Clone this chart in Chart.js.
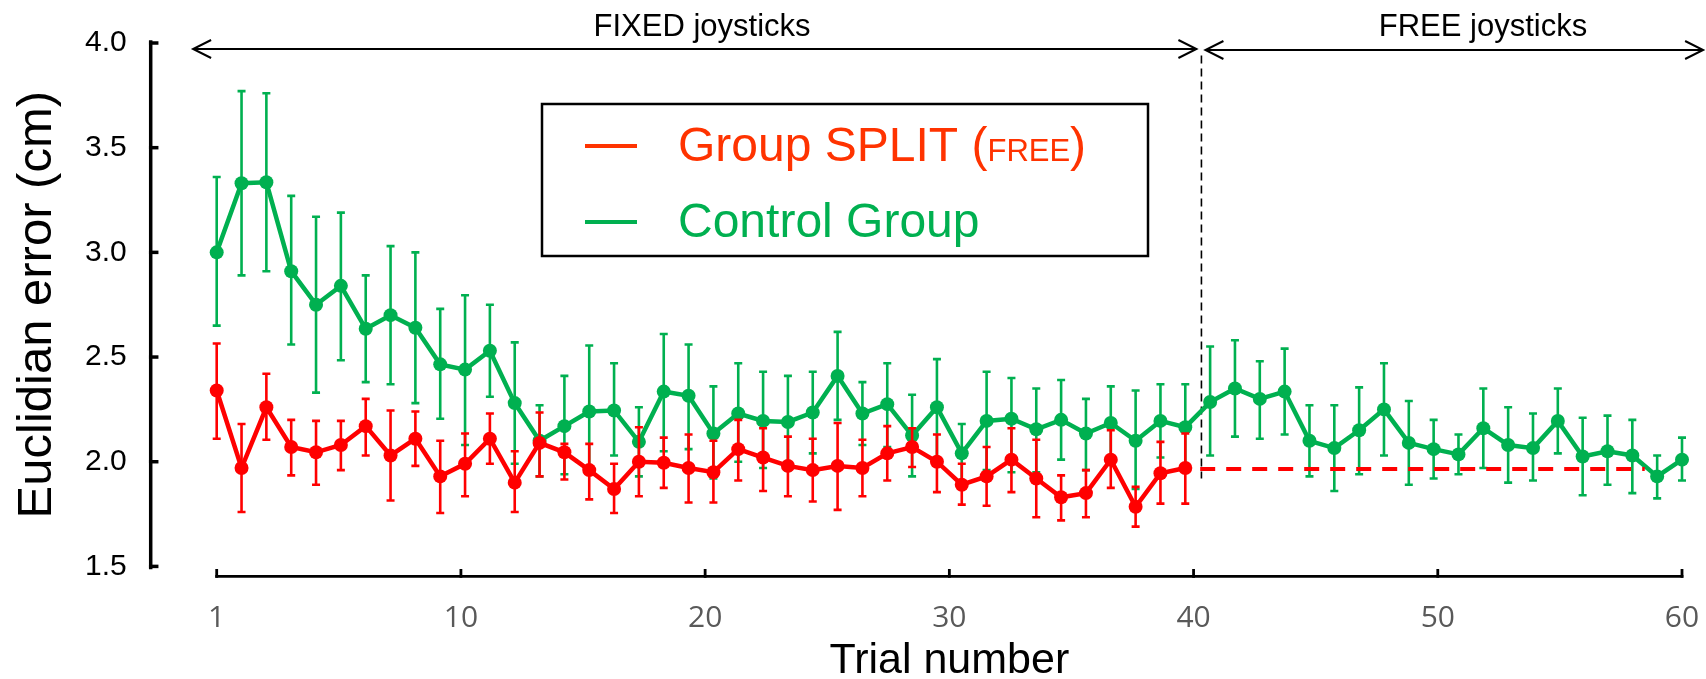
<!DOCTYPE html>
<html lang="en">
<head>
<meta charset="UTF-8" />
<title>Euclidian error per trial</title>
<script src="https://cdn.jsdelivr.net/npm/chart.js"></script>
<style>
  html, body { margin: 0; padding: 0; background: #fff; }
  .box { position: relative; width: 1706px; height: 679px; }
</style>
</head>
<body>
<div class="box"><canvas id="grafico"></canvas></div>

<script>
// trial numbers (x) and the labels printed under the axis
const trials = Array.from({ length: 60 }, (_, i) => i + 1);
const xTickLabels = ['1', '10', '20', '30', '40', '50', '60'];
const yTicks = [1.5, 2.0, 2.5, 3.0, 3.5, 4.0];

// Group SPLIT (FREE) - trials 1..40, mean and error bar ends
const splitMean = [2.34, 1.97, 2.26, 2.07, 2.045, 2.08, 2.17, 2.03, 2.11, 1.93,
  1.99, 2.11, 1.90, 2.09, 2.045, 1.96, 1.87, 2.00, 1.995, 1.97,
  1.95, 2.06, 2.02, 1.98, 1.96, 1.98, 1.97, 2.04, 2.07, 2.00,
  1.89, 1.93, 2.01, 1.92, 1.83, 1.85, 2.01, 1.785, 1.945, 1.97];
const splitHi = [2.565, 2.18, 2.42, 2.20, 2.195, 2.195, 2.30, 2.245, 2.24, 2.10,
  2.135, 2.23, 2.05, 2.235, 2.085, 2.085, 1.99, 2.165, 2.115, 2.13,
  2.10, 2.20, 2.16, 2.12, 2.11, 2.185, 2.105, 2.17, 2.16, 2.13,
  1.99, 2.07, 2.16, 2.105, 1.935, 1.96, 2.15, 1.88, 2.095, 2.135];
const splitLo = [2.11, 1.76, 2.105, 1.935, 1.89, 1.96, 2.03, 1.815, 1.98, 1.755,
  1.835, 1.99, 1.76, 1.93, 1.915, 1.82, 1.755, 1.835, 1.875, 1.805,
  1.805, 1.91, 1.86, 1.835, 1.81, 1.77, 1.835, 1.91, 1.975, 1.855,
  1.795, 1.79, 1.855, 1.735, 1.72, 1.735, 1.875, 1.69, 1.80, 1.80];

// Control Group - trials 1..60
const controlMean = [3.00, 3.33, 3.335, 2.91, 2.75, 2.84, 2.635, 2.70, 2.64, 2.465,
  2.44, 2.53, 2.28, 2.10, 2.17, 2.24, 2.245, 2.095, 2.335, 2.315,
  2.135, 2.23, 2.195, 2.19, 2.235, 2.41, 2.23, 2.275, 2.125, 2.26,
  2.04, 2.195, 2.205, 2.155, 2.20, 2.135, 2.185, 2.10, 2.195, 2.165,
  2.285, 2.35, 2.30, 2.335, 2.10, 2.065, 2.15, 2.25, 2.09, 2.06,
  2.035, 2.16, 2.08, 2.065, 2.195, 2.025, 2.05, 2.03, 1.93, 2.01];
const controlHi = [3.36, 3.77, 3.76, 3.27, 3.17, 3.19, 2.89, 3.03, 3.00, 2.73,
  2.795, 2.75, 2.57, 2.27, 2.41, 2.555, 2.47, 2.26, 2.61, 2.56,
  2.36, 2.47, 2.43, 2.41, 2.43, 2.62, 2.38, 2.47, 2.32, 2.49,
  2.18, 2.43, 2.40, 2.35, 2.39, 2.30, 2.36, 2.34, 2.37, 2.37,
  2.55, 2.58, 2.48, 2.54, 2.27, 2.27, 2.355, 2.47, 2.29, 2.20,
  2.13, 2.35, 2.26, 2.23, 2.35, 2.21, 2.22, 2.20, 2.03, 2.115];
const controlLo = [2.65, 2.89, 2.91, 2.56, 2.33, 2.485, 2.38, 2.37, 2.28, 2.205,
  2.08, 2.31, 1.99, 1.93, 1.94, 1.97, 2.03, 1.93, 2.05, 2.06,
  1.92, 2.00, 1.97, 1.96, 2.04, 2.20, 2.08, 2.07, 1.93, 2.02,
  1.90, 1.96, 1.95, 1.95, 2.01, 1.96, 2.01, 1.87, 2.02, 1.97,
  2.03, 2.12, 2.11, 2.13, 1.93, 1.86, 1.94, 2.03, 1.89, 1.92,
  1.94, 1.97, 1.90, 1.91, 2.04, 1.84, 1.89, 1.85, 1.825, 1.91];

// dashed red reference level in the FREE phase
const splitFreeLevel = 1.965;
const splitFreeRange = [40.6, 58.5];
// where FIXED ends and FREE begins, and the arrow ends (trial units)
const phaseBoundary = 40.65;
const fixedArrowFrom = 0.05;
const freeArrowTo = 60.85;

const VERDE = '#00B050';
const VERMELHO = '#FF0000';
const VERMELHO_LEGENDA = '#FF3300';
const FONTE = '"Liberation Sans", Arial, sans-serif';

function pontos(valores) {
  return valores.map((v, i) => ({ x: trials[i], y: v }));
}

// arrow with two open heads
function seta(ctx, x1, x2, yy) {
  ctx.beginPath();
  ctx.moveTo(x1, yy); ctx.lineTo(x2, yy);
  ctx.moveTo(x1 + 18, yy - 9); ctx.lineTo(x1, yy); ctx.lineTo(x1 + 18, yy + 9);
  ctx.moveTo(x2 - 18, yy - 9); ctx.lineTo(x2, yy); ctx.lineTo(x2 - 18, yy + 9);
  ctx.stroke();
}

const extras = {
  id: 'extras',
  beforeDatasetsDraw(chart) {
    const { ctx, scales: { x, y } } = chart;
    ctx.save();
    const xb = x.getPixelForValue(phaseBoundary);
    ctx.strokeStyle = '#000';
    ctx.lineWidth = 1.6;
    ctx.setLineDash([8, 5]);
    ctx.beginPath();
    ctx.moveTo(xb, y.getPixelForValue(3.94));
    ctx.lineTo(xb, y.getPixelForValue(1.92));
    ctx.stroke();
    ctx.restore();
  },
  beforeDatasetDraw(chart, args) {
    const ds = chart.data.datasets[args.index];
    if (!ds.errHi) return;
    const { ctx, scales: { x, y } } = chart;
    ctx.save();
    ctx.strokeStyle = ds.borderColor;
    ctx.lineWidth = 2.6;
    ds.errHi.forEach((hi, i) => {
      const px = x.getPixelForValue(trials[i]);
      const top = y.getPixelForValue(hi);
      const bot = y.getPixelForValue(ds.errLo[i]);
      ctx.beginPath();
      ctx.moveTo(px, top); ctx.lineTo(px, bot);
      ctx.moveTo(px - 4, top); ctx.lineTo(px + 4, top);
      ctx.moveTo(px - 4, bot); ctx.lineTo(px + 4, bot);
      ctx.stroke();
    });
    ctx.restore();
  },
  afterDraw(chart) {
    const { ctx, chartArea, scales: { x, y } } = chart;
    ctx.save();
    ctx.strokeStyle = '#000';
    ctx.lineCap = 'square';

    // y axis, detached to the left of the plot
    const ax = chartArea.left - 66;
    ctx.lineWidth = 3.5;
    ctx.beginPath();
    ctx.moveTo(ax, y.getPixelForValue(4.0) - 1);
    ctx.lineTo(ax, y.getPixelForValue(1.5) + 1);
    ctx.stroke();
    yTicks.forEach(v => {
      const py = y.getPixelForValue(v);
      ctx.beginPath(); ctx.moveTo(ax, py); ctx.lineTo(ax + 6, py); ctx.stroke();
    });

    // x axis, detached below the plot
    const ay = chartArea.bottom + 10;
    ctx.lineWidth = 2.8;
    ctx.beginPath();
    ctx.moveTo(x.getPixelForValue(x.ticks[0].value), ay);
    ctx.lineTo(x.getPixelForValue(x.ticks[x.ticks.length - 1].value), ay);
    ctx.stroke();
    x.ticks.forEach(t => {
      const px = x.getPixelForValue(t.value);
      ctx.beginPath(); ctx.moveTo(px, ay); ctx.lineTo(px, ay - 6); ctx.stroke();
    });

    // phase arrows
    ctx.lineCap = 'butt';
    ctx.lineWidth = 2;
    const xb = x.getPixelForValue(phaseBoundary);
    seta(ctx, x.getPixelForValue(fixedArrowFrom), xb - 5, 49);
    seta(ctx, xb + 4, x.getPixelForValue(freeArrowTo), 50);
    ctx.fillStyle = '#000';
    ctx.font = '31px ' + FONTE;
    ctx.textAlign = 'center';
    ctx.textBaseline = 'alphabetic';
    ctx.fillText('FIXED joysticks', 702, 36);
    ctx.fillText('FREE joysticks', 1483, 36);

    // legend box
    ctx.lineWidth = 2.5;
    ctx.strokeRect(542, 104, 606, 152);
    ctx.lineWidth = 4;
    ctx.strokeStyle = VERMELHO_LEGENDA;
    ctx.beginPath(); ctx.moveTo(585, 146); ctx.lineTo(637, 146); ctx.stroke();
    ctx.strokeStyle = VERDE;
    ctx.beginPath(); ctx.moveTo(585, 222); ctx.lineTo(637, 222); ctx.stroke();

    ctx.textAlign = 'left';
    ctx.fillStyle = VERMELHO_LEGENDA;
    let tx = 678;
    ctx.font = '48px ' + FONTE;
    ctx.fillText('Group SPLIT (', tx, 161);
    tx += ctx.measureText('Group SPLIT (').width;
    ctx.font = '31px ' + FONTE;
    ctx.fillText('FREE', tx, 161);
    tx += ctx.measureText('FREE').width;
    ctx.font = '48px ' + FONTE;
    ctx.fillText(')', tx, 161);
    ctx.fillStyle = VERDE;
    ctx.fillText('Control Group', 678, 237);
    ctx.restore();
  }
};

new Chart(document.getElementById('grafico'), {
  type: 'line',
  data: {
    datasets: [
      {
        label: 'Group SPLIT (FREE)',
        data: pontos(splitMean),
        errHi: splitHi,
        errLo: splitLo,
        borderColor: VERMELHO,
        backgroundColor: VERMELHO,
        borderWidth: 4.5,
        pointRadius: 7,
        pointBorderWidth: 0,
        tension: 0,
        clip: false,
      },
      {
        label: 'Group SPLIT level',
        data: splitFreeRange.map(v => ({ x: v, y: splitFreeLevel })),
        borderColor: VERMELHO,
        borderWidth: 4,
        borderDash: [15, 11],
        pointRadius: 0,
        clip: false,
      },
      {
        label: 'Control Group',
        data: pontos(controlMean),
        errHi: controlHi,
        errLo: controlLo,
        borderColor: VERDE,
        backgroundColor: VERDE,
        borderWidth: 4.5,
        pointRadius: 7,
        pointBorderWidth: 0,
        tension: 0,
        clip: false,
      },
    ],
  },
  options: {
    responsive: true,
    maintainAspectRatio: false,
    devicePixelRatio: 1,
    animation: false,
    events: [],
    layout: { padding: { left: 0, right: 24, top: 43, bottom: 0 } },
    plugins: { legend: { display: false }, tooltip: { enabled: false } },
    scales: {
      x: {
        type: 'linear',
        min: 1,
        max: 60,
        grid: { display: false, drawTicks: false },
        border: { display: false },
        afterBuildTicks(scale) {
          // labels are spread evenly along the axis, as in the figure
          scale.ticks = xTickLabels.map((_, k) => ({ value: 1 + k * 59 / (xTickLabels.length - 1) }));
        },
        afterFit(scale) {
          scale.height = 112.6;
          scale.paddingLeft = 0;
          scale.paddingRight = 0;
        },
        ticks: {
          autoSkip: false,
          maxRotation: 0,
          padding: 34,
          color: '#595959',
          font: { family: '"Open Sans", sans-serif', size: 30 },
          callback: (v, i) => xTickLabels[i],
        },
        title: {
          display: true,
          text: 'Trial number',
          color: '#000',
          font: { family: FONTE, size: 43, lineHeight: 1 },
          padding: { top: 0, bottom: -4 },
        },
      },
      y: {
        min: 1.5,
        max: 4.0,
        grid: { display: false, drawTicks: false },
        border: { display: false },
        afterBuildTicks(scale) {
          scale.ticks = yTicks.map(v => ({ value: v }));
        },
        afterFit(scale) {
          // the big label padding must not push the plot area down
          scale.width = 216.7;
          scale.paddingTop = 0;
          scale.paddingBottom = 0;
        },
        ticks: {
          padding: 90,
          color: '#000',
          font: { family: FONTE, size: 30 },
          callback: v => v.toFixed(1),
        },
        title: {
          display: true,
          text: 'Euclidian error (cm)',
          color: '#000',
          font: { family: FONTE, size: 49, lineHeight: 1 },
          padding: { top: 13, bottom: 0 },
        },
      },
    },
  },
  plugins: [extras],
});
</script>
</body>
</html>
